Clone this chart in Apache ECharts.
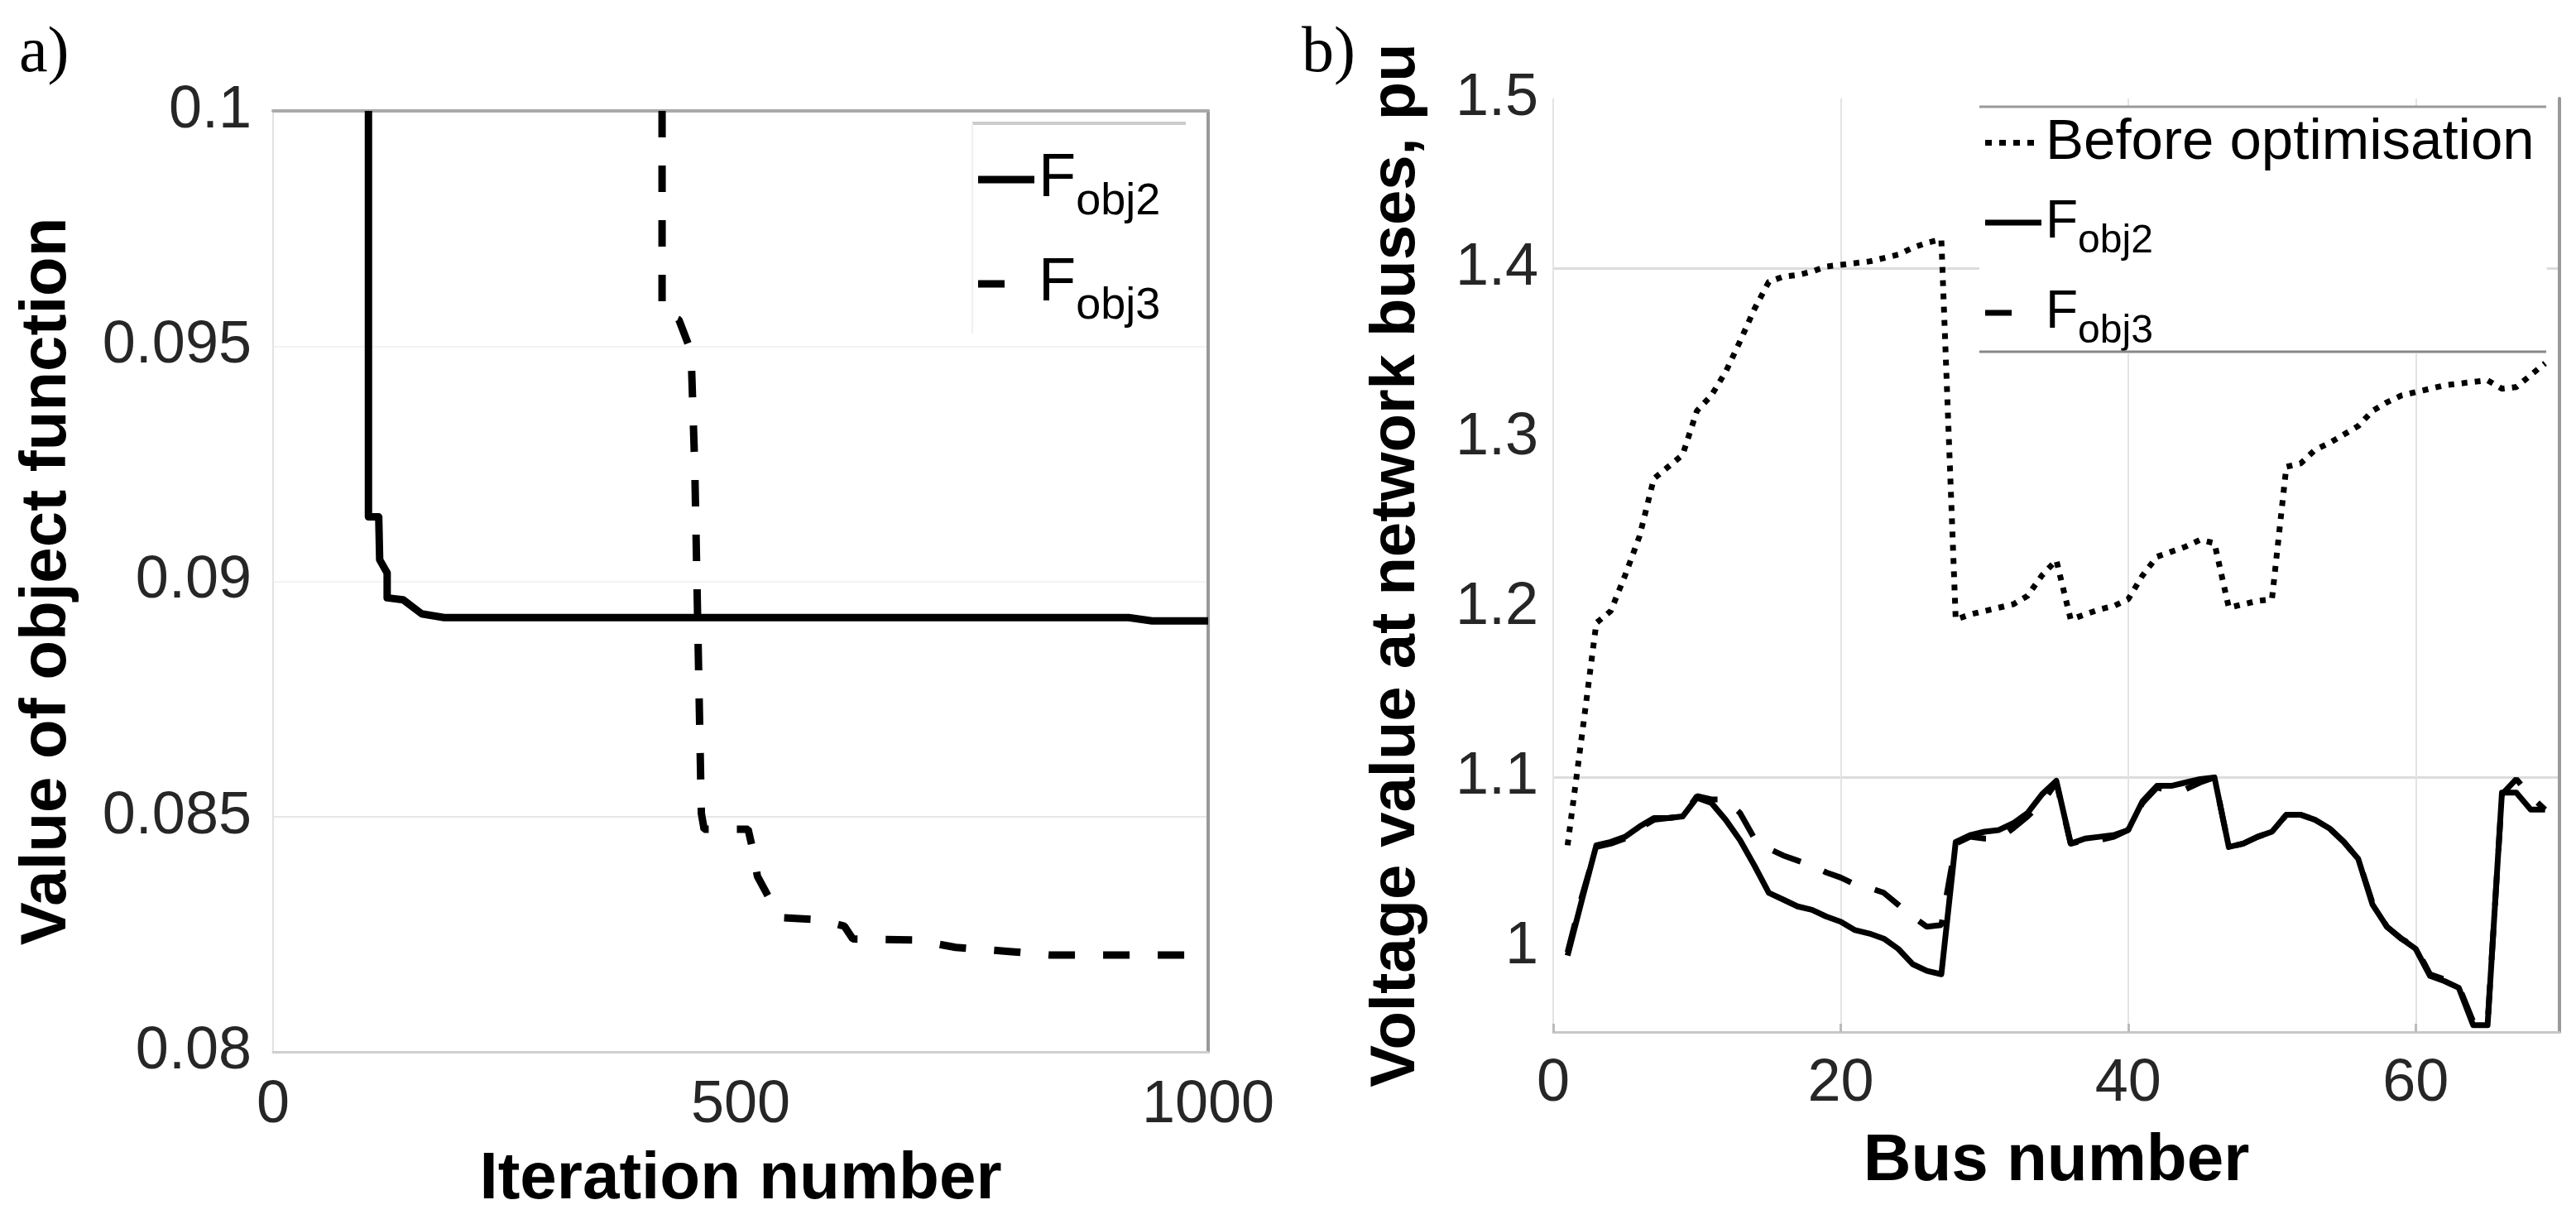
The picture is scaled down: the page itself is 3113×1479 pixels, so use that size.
<!DOCTYPE html>
<html>
<head>
<meta charset="utf-8">
<script src="https://cdn.jsdelivr.net/npm/echarts@6/dist/echarts.min.js"></script>
<style>
html,body{margin:0;padding:0;background:#fff;}
#chart{width:3113px;height:1479px;}
</style>
</head>
<body>
<div id="chart"></div>
<script>
// ---- Panel a) : objective function vs iteration ----
const iterFobj2 = [102, 102, 113, 114, 122, 122, 139, 159, 183, 500, 915, 940, 1000];
const valFobj2  = [0.1, 0.09137, 0.09137, 0.09046, 0.09018, 0.08965, 0.08961, 0.08931, 0.08923, 0.08923, 0.08923, 0.08916, 0.08916];
const iterFobj3 = [416, 416, 434, 447, 451, 458, 461, 508, 513, 518, 531, 545, 584, 611, 620, 686, 730, 790, 830, 982];
const valFobj3  = [0.1, 0.09572, 0.09556, 0.09489, 0.0924, 0.08507, 0.08473, 0.08473, 0.0843, 0.08373, 0.08325, 0.08285, 0.08281, 0.08267, 0.0824, 0.08238, 0.08222, 0.08213, 0.08206, 0.08206];
const iterTicks = [0, 500, 1000];
const objTicks  = [0.08, 0.085, 0.09, 0.095, 0.1];

// ---- Panel b) : bus voltages ----
const buses = [1,2,3,4,5,6,7,8,9,10,11,12,13,14,15,16,17,18,19,20,21,22,23,24,25,26,27,28,29,30,31,32,33,34,35,36,37,38,39,40,41,42,43,44,45,46,47,48,49,50,51,52,53,54,55,56,57,58,59,60,61,62,63,64,65,66,67,68,69];
const voltBefore = [1.060,1.125,1.191,1.198,1.219,1.242,1.276,1.283,1.290,1.316,1.325,1.339,1.357,1.376,1.392,1.395,1.396,1.398,1.401,1.402,1.403,1.404,1.406,1.408,1.412,1.415,1.417,1.193,1.196,1.198,1.200,1.202,1.207,1.219,1.228,1.193,1.196,1.199,1.201,1.205,1.219,1.230,1.233,1.236,1.240,1.238,1.200,1.202,1.204,1.205,1.283,1.285,1.293,1.297,1.302,1.307,1.316,1.321,1.325,1.327,1.329,1.331,1.332,1.333,1.334,1.329,1.330,1.337,1.344];
const voltFobj2 = [0.995,1.028,1.060,1.062,1.065,1.071,1.076,1.076,1.077,1.088,1.085,1.075,1.063,1.048,1.032,1.028,1.024,1.022,1.018,1.015,1.010,1.008,1.005,0.999,0.990,0.986,0.984,1.062,1.066,1.068,1.069,1.073,1.079,1.090,1.098,1.061,1.064,1.065,1.066,1.069,1.086,1.095,1.095,1.097,1.099,1.100,1.059,1.061,1.065,1.068,1.078,1.078,1.075,1.070,1.062,1.052,1.025,1.012,1.005,0.999,0.983,0.980,0.976,0.954,0.954,1.091,1.091,1.081,1.081];
const voltFobj3 = [0.997,1.030,1.059,1.061,1.064,1.070,1.075,1.076,1.077,1.089,1.087,1.087,1.079,1.064,1.058,1.054,1.051,1.048,1.044,1.041,1.037,1.035,1.032,1.025,1.018,1.012,1.013,1.061,1.065,1.064,1.064,1.070,1.077,1.085,1.097,1.061,1.063,1.063,1.065,1.069,1.085,1.094,1.092,1.093,1.097,1.100,1.059,1.061,1.065,1.068,1.078,1.078,1.075,1.070,1.062,1.052,1.026,1.012,1.005,1.000,0.984,0.981,0.977,0.956,0.955,1.090,1.099,1.089,1.081];
const busTicks  = [0, 20, 40, 60];
const voltTicks = [1, 1.1, 1.2, 1.3, 1.4, 1.5];

const FONT = "'Liberation Sans', Arial, Helvetica, sans-serif";
const pairs = (xs, ys) => xs.map((x, i) => [x, ys[i]]);

const chart = echarts.init(document.getElementById('chart'), null, {renderer: 'canvas'});

const tickLabel = {fontSize: 72, color: '#262626', fontFamily: FONT};
const axisName = {fontSize: 80, fontWeight: 'bold', color: '#000', fontFamily: FONT};

function legendFormatter(name) {
  if (name.indexOf('Before') === 0) return '{b|Before optimisation}';
  const n = name.indexOf('obj2') >= 0 ? '2' : '3';
  return '{f|F}{s|obj' + n + '}';
}

// legend sample glyphs (solid bar, single dash, dots)
const ICON_SOLID_A = 'path://M0,0H68V9H0Z';
const ICON_DASH_A  = 'path://M0,0H32V9H0Z M68,9';
const ICON_SOLID_B = 'path://M0,0H68V7H0Z';
const ICON_DASH_B  = 'path://M0,0H32V7H0Z M68,7';
const ICON_DOT_B   = 'path://M0,0H8V7H0Z M17,0H25V7H17Z M34,0H42V7H34Z M51,0H59V7H51Z M68,7';

const option = {
  backgroundColor: '#fff',
  animation: false,
  title: [
    {text: 'a)', left: 18, top: 22, textStyle: {fontFamily: "'Liberation Serif', 'Times New Roman', serif", fontSize: 78, fontWeight: 'normal', color: '#000'}},
    {text: 'b)', left: 1568, top: 22, textStyle: {fontFamily: "'Liberation Serif', 'Times New Roman', serif", fontSize: 78, fontWeight: 'normal', color: '#000'}}
  ],
  grid: [
    {left: 330, top: 134, width: 1130, height: 1137},
    {left: 1877, top: 119, width: 1216, height: 1128}
  ],
  xAxis: [
    {
      gridIndex: 0, type: 'value', position: 'bottom', min: iterTicks[0], max: iterTicks[iterTicks.length - 1], interval: iterTicks[1] - iterTicks[0],
      axisLine: {show: true, onZero: false, lineStyle: {color: '#cfcfcf', width: 3}},
      axisTick: {show: false},
      axisLabel: Object.assign({margin: 29, formatter: v => String(v)}, tickLabel),
      splitLine: {show: false},
      name: 'Iteration number', nameLocation: 'middle', nameGap: 115, nameTextStyle: axisName
    },
    {
      gridIndex: 0, type: 'value', position: 'top', min: iterTicks[0], max: iterTicks[iterTicks.length - 1],
      axisLine: {show: true, onZero: false, lineStyle: {color: '#aaaaaa', width: 4}},
      axisTick: {show: false}, axisLabel: {show: false}, splitLine: {show: false}
    },
    {
      gridIndex: 1, type: 'value', position: 'bottom', min: 0, max: 70, interval: busTicks[1] - busTicks[0],
      axisLine: {show: true, onZero: false, lineStyle: {color: '#c8c8c8', width: 3}},
      axisTick: {show: true, inside: true, length: 10, lineStyle: {color: '#bbbbbb', width: 3}},
      axisLabel: Object.assign({margin: 27, showMaxLabel: false, formatter: v => String(v)}, tickLabel),
      splitLine: {show: true, showMaxLine: false, lineStyle: {color: '#e3e3e3', width: 2}},
      name: 'Bus number', nameLocation: 'middle', nameGap: 117, nameTextStyle: axisName
    }
  ],
  yAxis: [
    {
      gridIndex: 0, type: 'value', position: 'left', min: objTicks[0], max: objTicks[objTicks.length - 1], interval: 0.005,
      axisLine: {show: true, onZero: false, lineStyle: {color: '#e2e2e2', width: 2}},
      axisTick: {show: false},
      axisLabel: Object.assign({margin: 26}, tickLabel),
      splitLine: {show: true, lineStyle: {color: ['rgba(0,0,0,0)', '#e6e6e6', '#f3f3f3', '#f3f3f3', 'rgba(0,0,0,0)'], width: 2}},
      name: 'Value of object function', nameLocation: 'middle', nameGap: 234, nameRotate: 90,
      nameTextStyle: Object.assign({}, axisName, {fontSize: 78})
    },
    {
      gridIndex: 0, type: 'value', position: 'right', min: objTicks[0], max: objTicks[objTicks.length - 1],
      axisLine: {show: true, onZero: false, lineStyle: {color: '#999999', width: 4}},
      axisTick: {show: false}, axisLabel: {show: false}, splitLine: {show: false}
    },
    {
      gridIndex: 1, type: 'value', position: 'left', min: 0.95, max: voltTicks[voltTicks.length - 1], interval: 0.05,
      axisLine: {show: false},
      axisTick: {show: false},
      axisLabel: Object.assign({
        margin: 18,
        formatter: function (v) {
          const r = Math.round(v * 100);
          return (r % 10 === 0) ? String(r / 100) : '';
        }
      }, tickLabel),
      splitLine: {show: true, lineStyle: {color: ['rgba(0,0,0,0)', 'rgba(0,0,0,0)', 'rgba(0,0,0,0)', '#dcdcdc', 'rgba(0,0,0,0)', 'rgba(0,0,0,0)', 'rgba(0,0,0,0)', 'rgba(0,0,0,0)', 'rgba(0,0,0,0)', '#dcdcdc', 'rgba(0,0,0,0)', 'rgba(0,0,0,0)'], width: 3}},
      name: 'Voltage value at network buses, pu', nameLocation: 'middle', nameGap: 151, nameRotate: 90,
      nameTextStyle: Object.assign({}, axisName, {fontSize: 76})
    },
    {
      gridIndex: 1, type: 'value', position: 'right', min: 0.95, max: 1.5,
      axisLine: {show: true, onZero: false, lineStyle: {color: '#999999', width: 4}},
      axisTick: {show: false}, axisLabel: {show: false}, splitLine: {show: false}
    }
  ],
  legend: [
    {
      data: [{name: 'Fobj2 a', icon: ICON_SOLID_A}, {name: 'Fobj3 a', icon: ICON_DASH_A}],
      orient: 'vertical', left: 1182, top: 163, padding: 0, itemGap: 18,
      itemWidth: 68, itemHeight: 9, selectedMode: false,
      itemStyle: {color: '#000', borderWidth: 0},
      formatter: legendFormatter,
      textStyle: {
        color: '#000', fontFamily: FONT,
        rich: {
          f: {fontSize: 74, lineHeight: 74, verticalAlign: 'top', fontFamily: FONT, color: '#000'},
          s: {fontSize: 54, lineHeight: 54, padding: [54, 0, 0, 0], fontFamily: FONT, color: '#000'}
        }
      }
    },
    {
      data: [{name: 'Before optimisation', icon: ICON_DOT_B}, {name: 'Fobj2 b', icon: ICON_SOLID_B}, {name: 'Fobj3 b', icon: ICON_DASH_B}],
      orient: 'vertical', left: 2392, top: 129, padding: [9, 15, 2, 7], itemGap: 15,
      backgroundColor: '#ffffff',
      itemWidth: 68, itemHeight: 7, selectedMode: false,
      itemStyle: {color: '#000', borderWidth: 0},
      formatter: legendFormatter,
      textStyle: {
        color: '#000', fontFamily: FONT,
        rich: {
          b: {fontSize: 69, lineHeight: 69, fontFamily: FONT, color: '#000'},
          f: {fontSize: 64, lineHeight: 64, verticalAlign: 'top', fontFamily: FONT, color: '#000'},
          s: {fontSize: 48, lineHeight: 48, padding: [46, 0, 0, 0], fontFamily: FONT, color: '#000'}
        }
      }
    }
  ],
  graphic: [
    // legend box edges (panel a)
    {type: 'line', z: 10, shape: {x1: 1175, y1: 149, x2: 1433, y2: 149}, style: {stroke: '#cccccc', lineWidth: 4}, silent: true},
    {type: 'line', z: 10, shape: {x1: 1175, y1: 149, x2: 1175, y2: 403}, style: {stroke: '#f0f0f0', lineWidth: 2}, silent: true},
    // legend box edges (panel b)
    {type: 'line', z: 10, shape: {x1: 2392, y1: 129, x2: 3077, y2: 129}, style: {stroke: '#999999', lineWidth: 3}, silent: true},
    {type: 'line', z: 10, shape: {x1: 2392, y1: 425, x2: 3077, y2: 425}, style: {stroke: '#888888', lineWidth: 3}, silent: true}
  ],
  series: [
    {
      name: 'Fobj3 a', type: 'line', xAxisIndex: 0, yAxisIndex: 0, data: pairs(iterFobj3, valFobj3),
      symbol: 'none', clip: true, z: 3, itemStyle: {color: '#000'},
      lineStyle: {color: '#000', width: 9, type: [32, 34]}
    },
    {
      name: 'Fobj2 a', type: 'line', xAxisIndex: 0, yAxisIndex: 0, data: pairs(iterFobj2, valFobj2),
      symbol: 'none', clip: true, z: 4, itemStyle: {color: '#000'},
      lineStyle: {color: '#000', width: 9, join: 'round'}
    },
    {
      name: 'Before optimisation', type: 'line', xAxisIndex: 2, yAxisIndex: 2, data: pairs(buses, voltBefore),
      symbol: 'none', clip: true, z: 3, itemStyle: {color: '#000'},
      lineStyle: {color: '#000', width: 7, type: [7, 9]}
    },
    {
      name: 'Fobj3 b', type: 'line', xAxisIndex: 2, yAxisIndex: 2, data: pairs(buses, voltFobj3),
      symbol: 'none', clip: true, z: 3, itemStyle: {color: '#000'},
      lineStyle: {color: '#000', width: 7, type: [36, 30]}
    },
    {
      name: 'Fobj2 b', type: 'line', xAxisIndex: 2, yAxisIndex: 2, data: pairs(buses, voltFobj2),
      symbol: 'none', clip: true, z: 4, itemStyle: {color: '#000'},
      lineStyle: {color: '#000', width: 7, join: 'round'}
    }
  ]
};

chart.setOption(option);
</script>
</body>
</html>
